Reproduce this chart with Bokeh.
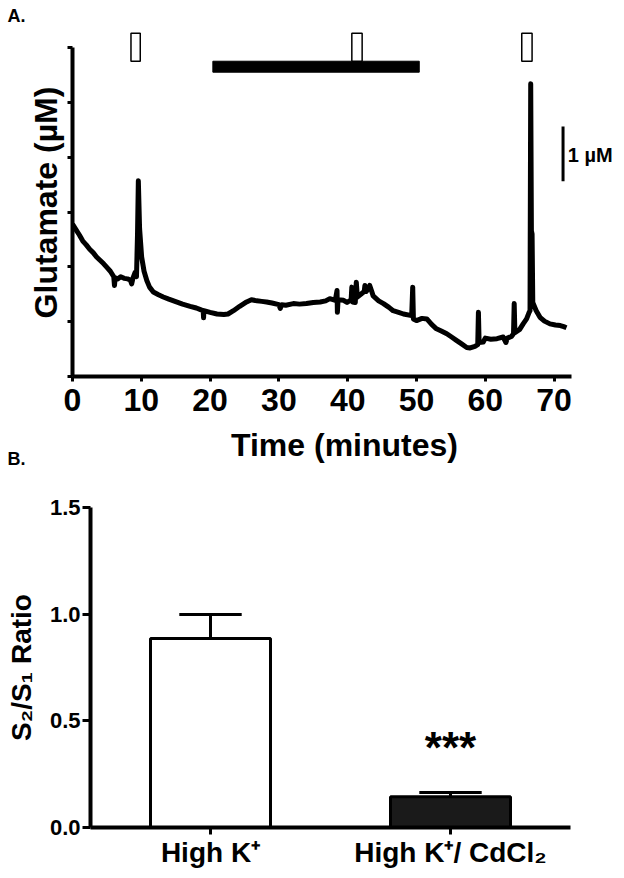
from bokeh.plotting import figure
from bokeh.models import Range1d, FixedTicker, Label, NumeralTickFormatter, Title
from bokeh.embed import file_html
from bokeh.resources import INLINE

FONT = "Liberation Sans"

# ---------------- Panel A: glutamate trace ----------------
time_min = [0.0, 0.5, 1.0, 1.5, 2.0, 2.5, 3.0, 3.5, 4.0, 4.5, 5.0, 5.5, 6.0, 6.1, 6.2,
            6.6, 7.0, 7.5, 8.0, 8.4, 8.6, 8.8, 9.1, 9.3, 9.45, 9.57, 9.75, 10.05, 10.4,
            10.8, 11.2, 11.75, 12.5, 13.2, 14.0, 15.1, 16.0, 17.1, 18.0, 18.6, 19.0,
            19.05, 19.1, 20.0, 21.0, 22.0, 22.6, 23.4, 24.3, 25.3, 26.0, 26.8, 27.5,
            28.2, 29.0, 30.0, 30.2, 30.4, 31.0, 32.1, 33.0, 34.0, 35.0, 36.0, 36.8,
            37.4, 38.2, 38.45, 38.5, 38.6, 39.4, 39.9, 40.5, 40.6, 40.7, 41.1, 41.25,
            41.4, 42.0, 42.4, 42.5, 42.7, 43.2, 43.5, 43.7, 44.5, 45.2, 46.0, 46.6,
            47.4, 48.1, 49.3, 49.45, 49.55, 50.0, 50.8, 51.5, 52.2, 52.9, 53.6, 54.4,
            55.1, 55.8, 56.5, 57.3, 57.8, 58.5, 58.9, 59.0, 59.1, 59.7, 60.0, 60.8,
            61.7, 62.6, 63.0, 63.2, 63.8, 64.1, 64.2, 64.3, 65.0, 65.5, 66.0, 66.4,
            66.5, 66.6, 66.7, 66.8, 66.9, 67.4, 67.95, 68.6, 69.4, 70.2, 70.9, 71.4,
            71.8]
glutamate_uM = [2.78, 2.68, 2.58, 2.47, 2.40, 2.32, 2.26, 2.18, 2.12, 2.06, 1.99, 1.92,
                1.82, 1.66, 1.80, 1.78, 1.82, 1.79, 1.78, 1.76, 1.69, 1.80, 1.90, 1.82,
                2.60, 3.57, 2.70, 2.18, 1.92, 1.75, 1.63, 1.54, 1.49, 1.45, 1.41, 1.36,
                1.32, 1.28, 1.25, 1.22, 1.20, 1.07, 1.20, 1.17, 1.14, 1.13, 1.14, 1.20,
                1.28, 1.36, 1.40, 1.38, 1.37, 1.36, 1.34, 1.31, 1.24, 1.31, 1.30, 1.33,
                1.32, 1.33, 1.35, 1.36, 1.38, 1.42, 1.39, 1.57, 1.17, 1.40, 1.39, 1.35,
                1.40, 1.63, 1.36, 1.35, 1.72, 1.45, 1.51, 1.55, 1.66, 1.55, 1.66, 1.55,
                1.47, 1.38, 1.33, 1.26, 1.20, 1.17, 1.14, 1.11, 1.63, 1.05, 1.02, 1.06,
                1.05, 0.95, 0.87, 0.83, 0.78, 0.72, 0.66, 0.60, 0.53, 0.52, 0.55, 0.58,
                1.17, 0.62, 0.63, 0.70, 0.68, 0.69, 0.72, 0.62, 0.70, 0.73, 0.78, 1.33,
                0.80, 0.86, 0.96, 1.05, 1.18, 1.20, 5.34, 2.66, 2.60, 1.35, 1.20, 1.08,
                1.01, 0.96, 0.94, 0.93, 0.91, 0.89]

stim_start = [8.5, 40.6, 65.3]      # high K+ pulses (open boxes)
stim_end = [9.85, 42.1, 66.8]
drug_start = [20.4]                 # CdCl2 application (black bar)
drug_end = [50.4]
x_ticks_A = [0, 10, 20, 30, 40, 50, 60, 70]
y_ticks_A = [0, 1, 2, 3, 4, 5, 6]
scale_bar_uM = 1.0

# ---------------- Panel B: S2/S1 ratio ----------------
categories = ["High K\u207A", "High K\u207A/ CdCl\u2082"]
cat_pos = [1, 2]
ratio_mean = [0.886, 0.144]
ratio_sem = [0.112, 0.020]
bar_colors = ["white", "#1a1a1a"]
y_ticks_B = [0.0, 0.5, 1.0, 1.5]


def style_axis(ax, lw=4, tick_out=5, tick_w=3):
    ax.axis_line_width = lw
    ax.axis_line_color = "black"
    ax.major_tick_line_width = tick_w
    ax.major_tick_line_color = "black"
    ax.major_tick_out = tick_out
    ax.major_tick_in = 0
    ax.minor_tick_line_color = None
    ax.major_label_text_font = FONT
    ax.major_label_text_font_style = "bold"
    ax.major_label_text_color = "black"
    ax.axis_label_text_font = FONT
    ax.axis_label_text_font_style = "bold"
    ax.axis_label_text_color = "black"


def bold_title(text, align, offset, standoff, size):
    return Title(text=text, align=align, offset=offset, standoff=standoff,
                 text_font=FONT, text_font_style="bold",
                 text_font_size=size, text_color="black")


# ---- Figure A ----
fA_w, fA_h = 544, 348
pA = figure(frame_width=fA_w, frame_height=fA_h, output_backend="svg", toolbar_location=None,
            x_range=Range1d(0, fA_w / 6.88), y_range=Range1d(0, fA_h / 54.83),
            min_border_left=72, min_border_right=0, min_border_top=28, min_border_bottom=0)
pA.title = bold_title("A.", "left", -65, 5, "18px")
pA.outline_line_color = None
pA.grid.visible = False

pA.line(time_min, glutamate_uM, line_width=5, line_color="black", line_join="round")
pA.quad(left=drug_start, right=drug_end, bottom=5.55, top=5.75,
        fill_color="black", line_color="black", line_width=1)
pA.quad(left=stim_start, right=stim_end, bottom=5.75, top=6.26,
        fill_color="white", line_color="black", line_width=1.5)
pA.segment(x0=[71.3], y0=[3.56], x1=[71.3], y1=[3.56 + scale_bar_uM],
           line_color="black", line_width=3)
pA.add_layout(Label(x=72.0, y=3.834, text="1 \u00b5M", text_font=FONT, text_font_style="bold",
                    text_font_size="20px", text_color="black"))

xa = pA.xaxis[0]
style_axis(xa)
xa.ticker = FixedTicker(ticks=x_ticks_A)
xa.bounds = (0, 72.5)
xa.major_label_text_font_size = "32px"
xa.major_label_standoff = 7
pA.add_layout(bold_title("Time (minutes)", "center", -26, 22, "32px"), "below")

ya = pA.yaxis[0]
style_axis(ya)
ya.ticker = FixedTicker(ticks=y_ticks_A)
ya.bounds = (0, 6)
ya.major_label_overrides = {t: "" for t in y_ticks_A}
ya.major_label_text_font_size = "1px"
ya.major_label_standoff = 0
ya.axis_label = "Glutamate (\u00b5M)"
ya.axis_label_text_font_size = "32px"
ya.axis_label_standoff = 4

# ---- Figure B ----
fB_w, fB_h = 480, 320
pB = figure(frame_width=fB_w, frame_height=fB_h, output_backend="svg", toolbar_location=None,
            x_range=Range1d(0.5, 2.5), y_range=Range1d(0, 1.5),
            min_border_left=90, min_border_right=46, min_border_top=0, min_border_bottom=0)
pB.title = bold_title("B.", "left", -83, 77, "18px")
pB.outline_line_color = None
pB.grid.visible = False
pB.background_fill_color = None
pB.border_fill_color = None
try:
    pB.margin = (-65, 0, 0, 0)
except Exception:
    pB.styles = {"margin-top": "-65px"}

pB.vbar(x=cat_pos, top=ratio_mean, width=0.5, bottom=0,
        fill_color=bar_colors, line_color="black", line_width=3)
err_top = [m + s for m, s in zip(ratio_mean, ratio_sem)]
pB.segment(x0=cat_pos, y0=ratio_mean, x1=cat_pos, y1=err_top, line_color="black", line_width=3)
pB.segment(x0=[c - 0.13 for c in cat_pos], y0=err_top, x1=[c + 0.13 for c in cat_pos], y1=err_top,
           line_color="black", line_width=3)
pB.add_layout(Label(x=2, y=0.26, text="***", text_align="center", text_font=FONT,
                    text_font_style="bold", text_font_size="44px", text_color="black"))

xb = pB.xaxis[0]
style_axis(xb, tick_out=7)
xb.ticker = FixedTicker(ticks=cat_pos)
xb.major_label_overrides = {c: lab for c, lab in zip(cat_pos, categories)}
xb.bounds = (0.5, 2.5)
xb.major_label_text_font_size = "28px"
xb.major_label_standoff = 2

yb = pB.yaxis[0]
style_axis(yb, tick_out=8)
yb.ticker = FixedTicker(ticks=y_ticks_B)
yb.formatter = NumeralTickFormatter(format="0.0")
yb.bounds = (0, 1.5)
yb.major_label_text_font_size = "22px"
yb.major_label_standoff = 2
yb.axis_label = "S\u2082/S\u2081 Ratio"
yb.axis_label_text_font_size = "28px"
yb.axis_label_standoff = 10

open("out.html", "w").write(file_html([pA, pB], INLINE))
